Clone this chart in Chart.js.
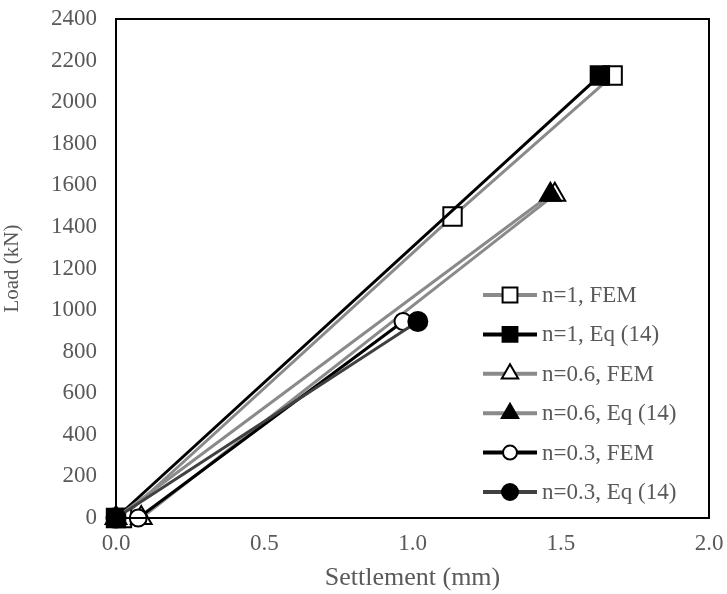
<!DOCTYPE html>
<html>
<head>
<meta charset="utf-8">
<script src="https://cdn.jsdelivr.net/npm/chart.js@4/dist/chart.umd.min.js"></script>
<style>
  html, body { margin: 0; padding: 0; background: #fff; }
  #wrap { width: 727px; height: 594px; position: relative; }
</style>
</head>
<body>
<div id="wrap"><canvas id="c" width="727" height="594"></canvas></div>
<script>
// Settlement (mm) / Load (kN)
const seriesLabels = ['n=1, FEM', 'n=1, Eq (14)', 'n=0.6, FEM', 'n=0.6, Eq (14)', 'n=0.3, FEM', 'n=0.3, Eq (14)'];
const n1FemX = [0.02, 1.135, 1.675];
const n1FemY = [0, 1450, 2128];
const n1EqX = [0, 1.632];
const n1EqY = [0, 2128];
const n06FemX = [0.085, 1.48];
const n06FemY = [0, 1555];
const n06EqX = [0, 1.465];
const n06EqY = [0, 1555];
const n03FemX = [0.075, 0.968];
const n03FemY = [0, 945];
const n03EqX = [0, 1.018];
const n03EqY = [0, 945];

const xTicks = [0, 0.5, 1.0, 1.5, 2.0];
const yTicks = [0, 200, 400, 600, 800, 1000, 1200, 1400, 1600, 1800, 2000, 2200, 2400];

const GRAY = '#8a8a8a';
const DARK = '#404040';
const TEXT = '#595959';
const FONT = "'Liberation Serif', 'Times New Roman', serif";

const pts = (xs, ys) => xs.map((x, i) => ({ x, y: ys[i] }));

const styles = [
  { line: GRAY, style: 'rect', r: 13, fill: '#fff', lr: 10.5 },
  { line: '#000', style: 'rect', r: 13, fill: '#000', lr: 10.5 },
  { line: GRAY, style: 'triangle', r: 12, fill: '#fff', lr: 9.5 },
  { line: GRAY, style: 'triangle', r: 12, fill: '#000', lr: 9.5 },
  { line: '#000', style: 'circle', r: 8.5, fill: '#fff', lr: 7 },
  { line: DARK, style: 'circle', r: 9.5, fill: '#000', lr: 8 }
];
const data = [
  pts(n1FemX, n1FemY), pts(n1EqX, n1EqY),
  pts(n06FemX, n06FemY), pts(n06EqX, n06EqY),
  pts(n03FemX, n03FemY), pts(n03EqX, n03EqY)
];

const datasets = seriesLabels.map((label, i) => ({
  label,
  data: data[i],
  borderColor: styles[i].line,
  borderWidth: 3,
  pointStyle: styles[i].style,
  pointRadius: styles[i].r,
  pointBackgroundColor: styles[i].fill,
  pointBorderColor: '#000',
  pointBorderWidth: 2,
  showLine: true,
  tension: 0,
  clip: false,
  order: -i
}));

// frame around plot area + legend drawn inside it
const framePlugin = {
  id: 'frame',
  afterDraw(chart) {
    const { ctx, chartArea: a } = chart;
    ctx.save();
    ctx.strokeStyle = '#000';
    ctx.lineWidth = 2;
    ctx.strokeRect(a.left, a.top, a.right - a.left, a.bottom - a.top);

    const x0 = a.right - 226, x1 = x0 + 54;
    ctx.font = '23px ' + FONT;
    ctx.textBaseline = 'middle';
    seriesLabels.forEach((label, i) => {
      const y = a.top + 276 + i * 39.4;
      const s = styles[i];
      ctx.strokeStyle = s.line;
      ctx.lineWidth = 4;
      ctx.beginPath();
      ctx.moveTo(x0, y);
      ctx.lineTo(x1, y);
      ctx.stroke();
      ctx.fillStyle = s.fill;
      ctx.strokeStyle = '#000';
      ctx.lineWidth = 2;
      Chart.helpers.drawPoint(ctx, { pointStyle: s.style, radius: s.lr, rotation: 0, borderWidth: 2 }, (x0 + x1) / 2, y);
      ctx.fillStyle = TEXT;
      ctx.fillText(label, x1 + 5, y + 1);
    });
    ctx.restore();
  }
};

new Chart(document.getElementById('c'), {
  type: 'scatter',
  data: { datasets },
  options: {
    responsive: false,
    animation: false,
    devicePixelRatio: 1,
    layout: { padding: { top: 19, right: 18, left: 0, bottom: 0 } },
    plugins: { legend: { display: false }, tooltip: { enabled: false } },
    scales: {
      x: {
        type: 'linear',
        min: 0, max: 2,
        afterBuildTicks: s => { s.ticks = xTicks.map(v => ({ value: v })); },
        afterFit: s => { s.height = 76; s.paddingLeft = 0; s.paddingRight = 0; },
        grid: { display: false, drawTicks: false },
        border: { display: false },
        ticks: { color: TEXT, font: { family: FONT, size: 23 }, padding: 12, callback: v => v.toFixed(1) },
        title: { display: true, text: 'Settlement (mm)', color: TEXT, font: { family: FONT, size: 26 }, padding: { top: 0, bottom: 0 } }
      },
      y: {
        type: 'linear',
        min: 0, max: 2400,
        afterBuildTicks: s => { s.ticks = yTicks.map(v => ({ value: v })); },
        afterFit: s => { s.width = 116; s.paddingTop = 0; s.paddingBottom = 0; },
        grid: { display: false, drawTicks: false },
        border: { display: false },
        ticks: { color: TEXT, font: { family: FONT, size: 23 }, padding: 19, callback: v => String(v) },
        title: { display: true, text: 'Load (kN)', color: TEXT, font: { family: FONT, size: 21 }, padding: { top: 0, bottom: 0 } }
      }
    }
  },
  plugins: [framePlugin]
});
</script>
</body>
</html>
